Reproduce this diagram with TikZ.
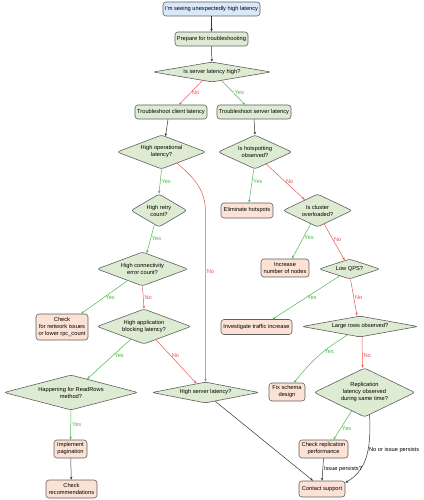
\documentclass[tikz,border=0pt]{standalone}
\usepackage{fontspec}
\setmainfont{Liberation Sans}
\usetikzlibrary{shapes.geometric,arrows.meta}
\definecolor{gfill}{HTML}{DDEBD3}
\definecolor{ofill}{HTML}{FBE2D5}
\definecolor{bfill}{HTML}{DAE8FC}
\definecolor{bord}{HTML}{5F5F5F}
\definecolor{ygreen}{HTML}{4DB84D}
\definecolor{nred}{HTML}{E85555}
\begin{document}
\begin{tikzpicture}[x=1pt,y=-1pt,
 every node/.style={font=\fontsize{5.7}{7}\selectfont},
 box/.style={rectangle, rounded corners=3pt, draw=bord, line width=0.6pt, align=center, inner xsep=0.5pt, inner ysep=1pt},
 proc/.style={box, fill=gfill},
 act/.style={box, fill=ofill},
 startbox/.style={box, fill=bfill},
 dec/.style={diamond, draw=bord, fill=gfill, line width=0.6pt, rounded corners=2.5pt, align=center, inner sep=0pt},
 conn/.style={line width=0.5pt, -{Stealth[length=3pt,width=2.4pt]}},
 yes/.style={conn, draw=ygreen},
 no/.style={conn, draw=nred},
 plain/.style={conn, draw=black!80},
 ylab/.style={text=ygreen, inner sep=1pt},
 nlab/.style={text=nred, inner sep=1pt},
 lab/.style={text=black, inner sep=1pt},
]
\useasboundingbox (0,0) rectangle (423,500);

\node[startbox, minimum width=97, minimum height=14] (start) at (211.5,9) {I'm seeing unexpectedly high latency};
\node[proc, minimum width=73, minimum height=14] (prep) at (211.5,39) {Prepare for troubleshooting};
\node[dec, minimum width=118, minimum height=20, aspect=5.9] (q1) at (212,72) {Is server latency high?};
\node[proc, minimum width=72, minimum height=14] (client) at (171,112) {Troubleshoot client latency};
\node[proc, minimum width=74, minimum height=14] (server) at (254,112) {Troubleshoot server latency};
\node[dec, minimum width=89, minimum height=34, aspect=2.6] (hiop) at (161.5,152) {High operational\\latency?};
\node[dec, minimum width=56, minimum height=33, aspect=1.7] (retry) at (159,210.5) {High retry\\count?};
\node[dec, minimum width=91, minimum height=34, aspect=2.7] (conncnt) at (142.5,269) {High connectivity\\error count?};
\node[act, minimum width=52, minimum height=26] (net) at (62,327) {Check\\for network issues\\or lower rpc\_count};
\node[dec, minimum width=94, minimum height=35, aspect=2.7] (hiapp) at (144,326.5) {High application\\blocking latency?};
\node[dec, minimum width=134, minimum height=35, aspect=3.8] (readrows) at (71,392.5) {Happening for ReadRows\\method?};
\node[dec, minimum width=107, minimum height=21, aspect=5.1] (hiserver) at (205.5,392.5) {High server latency?};
\node[act, minimum width=33, minimum height=18] (pag) at (70.5,449) {Implement\\pagination};
\node[act, minimum width=51, minimum height=18] (rec) at (71.5,489) {Check\\recommendations};
\node[dec, minimum width=74, minimum height=34, aspect=2.2] (hot) at (255,152) {Is hotspotting\\observed?};
\node[act, minimum width=52, minimum height=15] (elim) at (247,210.5) {Eliminate hotspots};
\node[dec, minimum width=69, minimum height=33, aspect=2.1] (clus) at (317.5,210.5) {Is cluster\\overloaded?};
\node[act, minimum width=48, minimum height=18] (incr) at (285,268) {Increase\\number of nodes};
\node[dec, minimum width=61, minimum height=20, aspect=3] (qps) at (349.5,269) {Low QPS?};
\node[act, minimum width=71, minimum height=15] (inv) at (256.5,327) {Investigate traffic increase};
\node[dec, minimum width=116, minimum height=21, aspect=5.5] (large) at (360,326.5) {Large rows observed?};
\node[act, minimum width=36, minimum height=18] (fix) at (287,392) {Fix schema\\design};
\node[dec, minimum width=101, minimum height=49, aspect=2.06] (repl) at (364.5,392.5) {Replication\\latency observed\\during same time?};
\node[act, minimum width=49, minimum height=18] (crep) at (323.5,449) {Check replication\\performance};
\node[act, minimum width=46, minimum height=16] (sup) at (322,489) {Contact support};

\draw[plain] (start) -- (prep);
\draw[plain] (prep) -- (q1);
\draw[no] (q1.222) -- node[nlab,right]{No} ([xshift=8pt]client.north);
\draw[yes] (q1.318) -- node[ylab,right]{Yes} ([xshift=-9pt]server.north);
\draw[plain] ([xshift=-3pt]client.south) -- ([xshift=4pt,yshift=-1.5pt]hiop.north);
\draw[plain] (server.south) -- (hot.north);
\draw[yes] (hiop.south) -- node[ylab,right]{Yes} (retry.north);
\draw[yes] (retry.252) -- node[ylab,right]{Yes} (conncnt.75);
\draw[yes] (conncnt.218) -- node[ylab,right]{Yes} ([xshift=19pt]net.north);
\draw[no] (conncnt.south) -- node[nlab,right]{No} (hiapp.north);
\coordinate (bend) at (205.5,212);
\draw[no] (hiop.324) to[out=-40,in=90] (bend) -- node[nlab,right,pos=0.35]{No} (hiserver.north);
\draw[yes] (hiapp.224) -- node[ylab,right,pos=0.4]{Yes} (readrows.40);
\draw[no] (hiapp.312) -- node[nlab,right,pos=0.36]{No} (hiserver.135);
\draw[yes] (readrows.south) -- node[ylab,right]{Yes} (pag.north);
\draw[plain] (pag) -- (rec);
\draw[yes] (hot.266) -- node[ylab,right,pos=0.38]{Yes} ([xshift=2pt]elim.north);
\draw[no] (hot.313) -- node[nlab,right,pos=0.48]{No} (clus.140);
\draw[yes] (clus.243) -- node[ylab,right,pos=0.4]{Yes} ([xshift=7pt]incr.north);
\draw[no] (clus.296) -- node[nlab,right,pos=0.42]{No} (qps.119);
\draw[yes] (qps.215) -- node[ylab,right,pos=0.5]{Yes} ([xshift=16pt]inv.north);
\draw[no] ([xshift=1pt]qps.south) -- node[nlab,right]{No} ([xshift=-3pt]large.north);
\draw[yes] (large.214) to[bend right=10] node[ylab,right,pos=0.4]{Yes} ([xshift=7pt]fix.north);
\draw[no] ([xshift=2pt]large.south) -- node[nlab,right,pos=0.6]{No} ([xshift=-2pt]repl.north);
\draw[yes] (repl.235) -- node[ylab,right,pos=0.6]{Yes} ([xshift=10pt]crep.north);
\draw[plain] (repl.283) to[out=-88,in=30] node[lab,right,pos=0.45]{No or issue persists} ([yshift=-2pt]sup.north east);
\draw[plain] (crep.south) -- node[lab,right]{Issue persists?} (sup.north);
\draw[plain] (hiserver.318) -- ([xshift=-9pt]sup.north);
\end{tikzpicture}
\end{document}
